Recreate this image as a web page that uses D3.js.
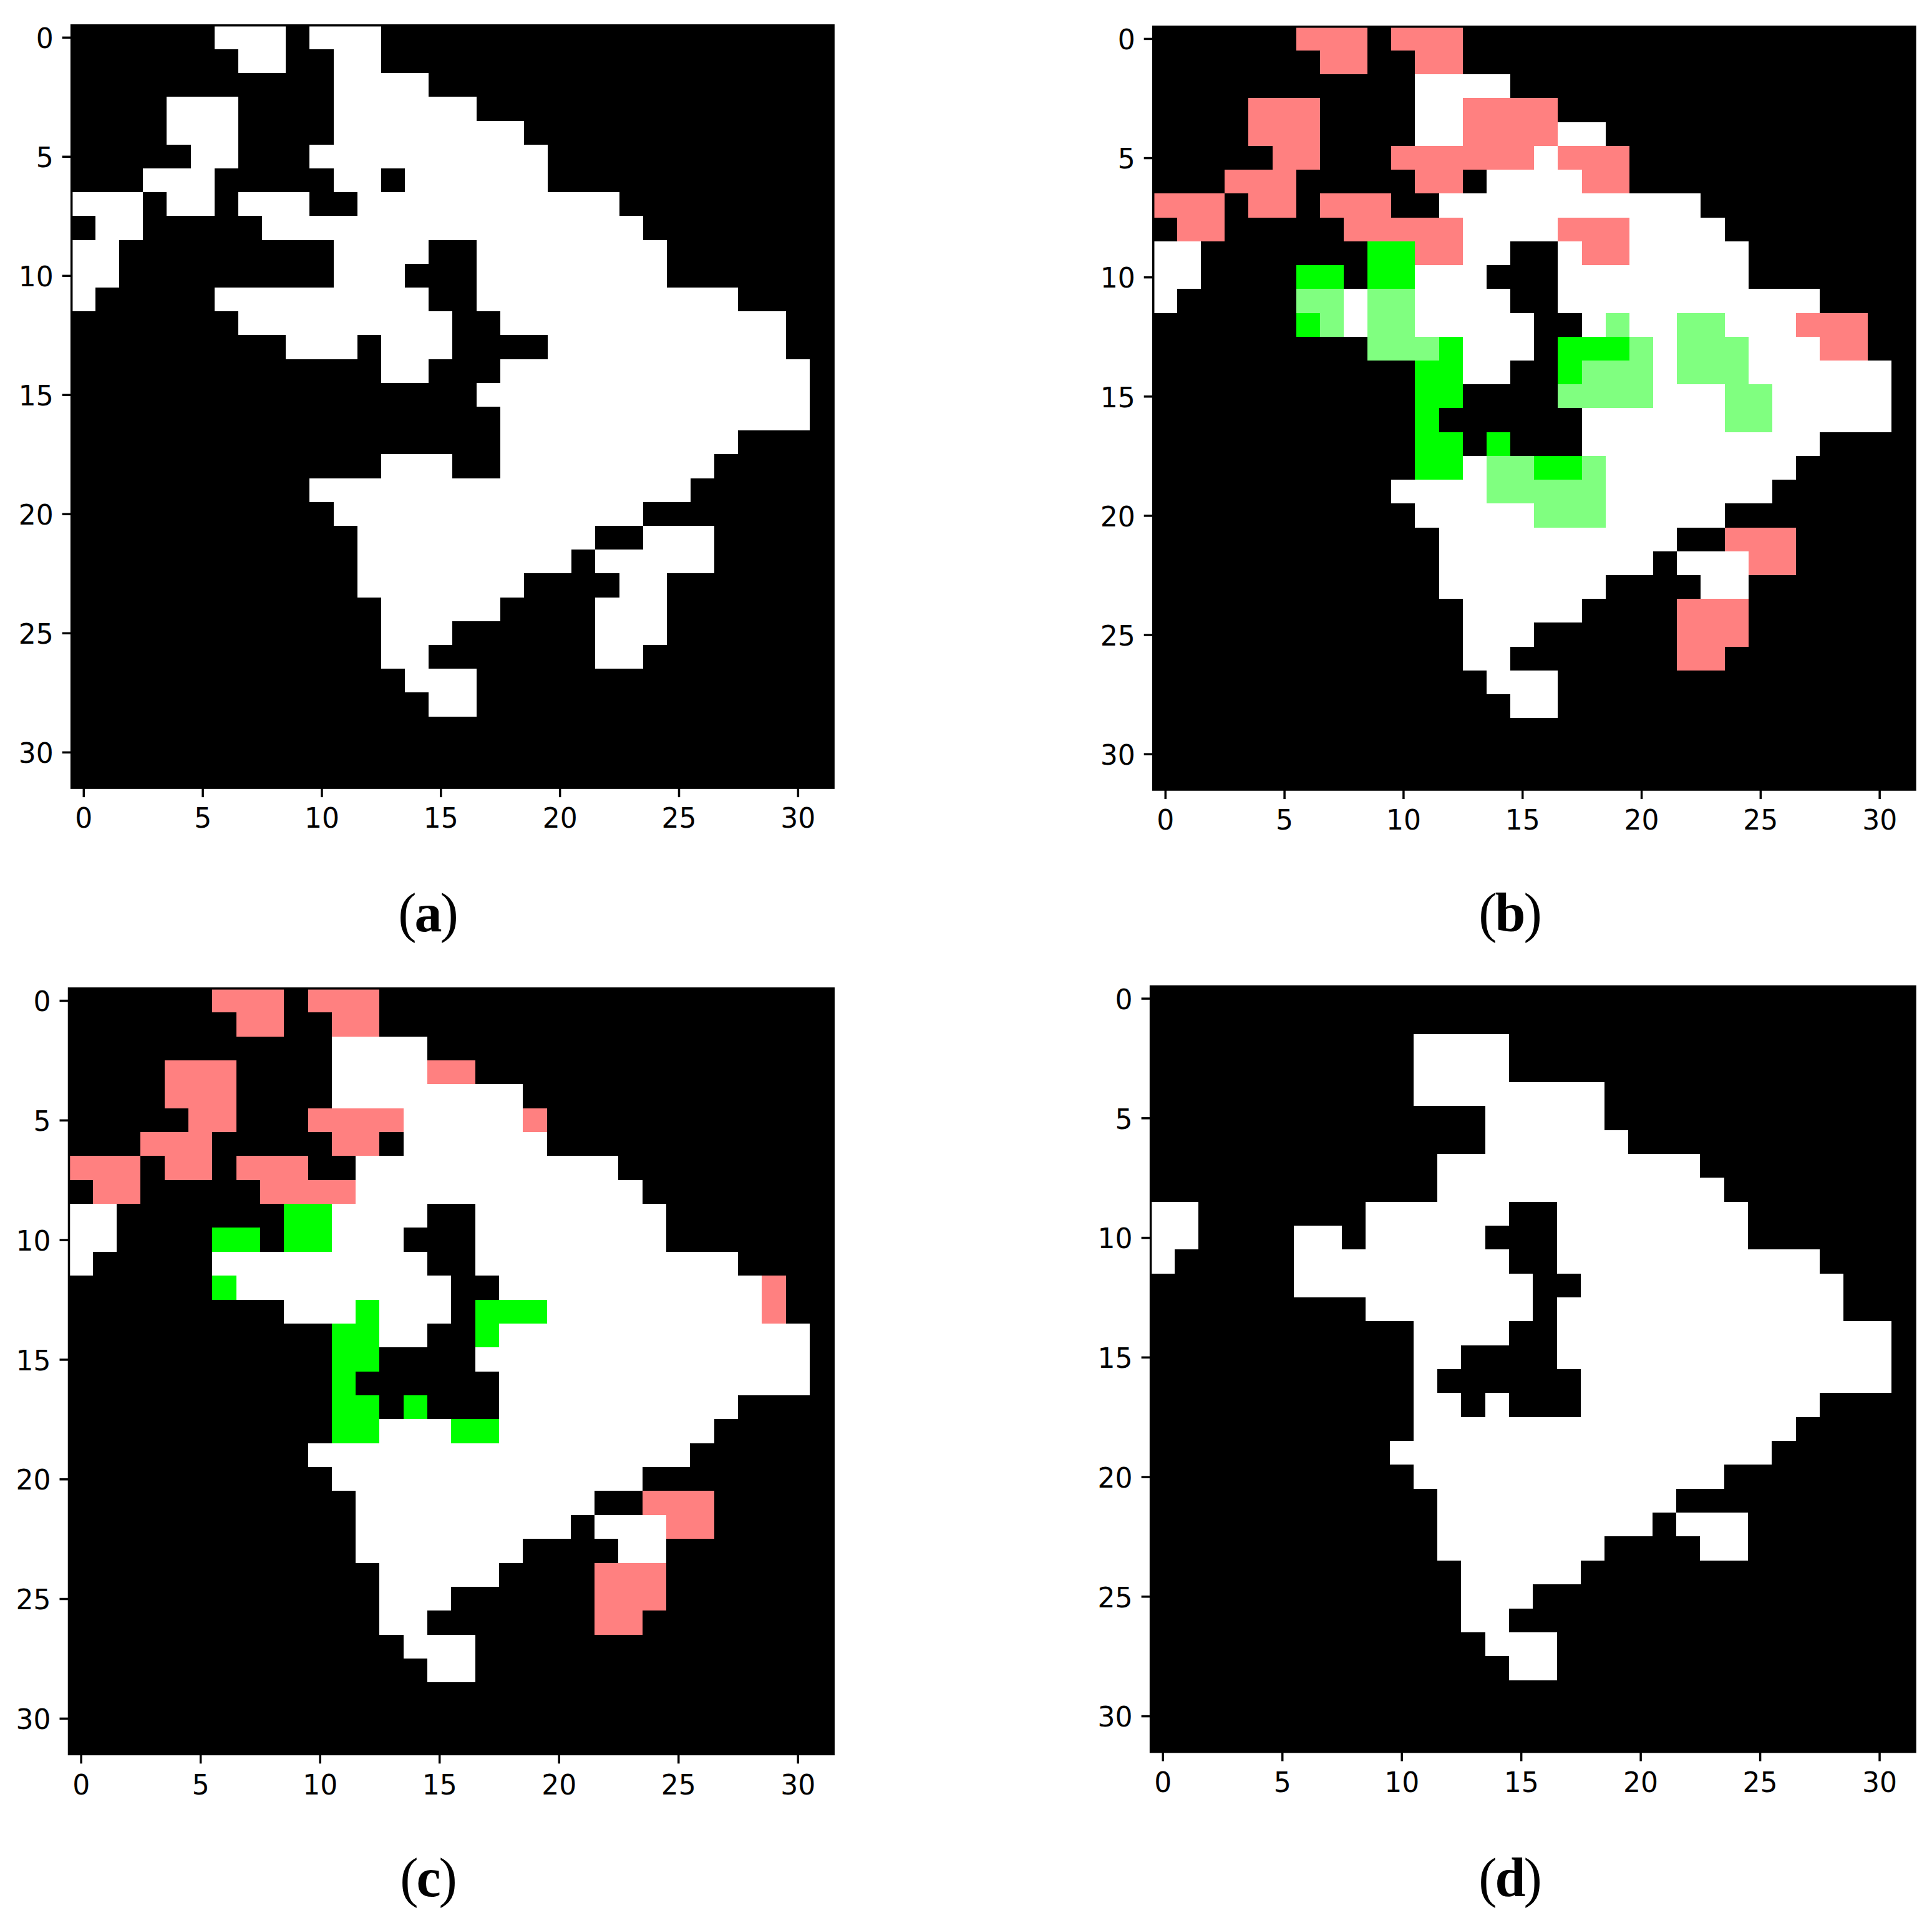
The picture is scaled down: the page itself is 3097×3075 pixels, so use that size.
<!DOCTYPE html>
<html>
<head>
<meta charset="utf-8">
<script src="https://cdn.jsdelivr.net/npm/d3@7/dist/d3.min.js"></script>
<style>
html,body{margin:0;padding:0;background:#fff}
svg{display:block}
</style>
</head>
<body>
<svg id="chart" width="3097" height="3075"></svg>
<script>
// Cell classes: 0 black (default), 1 white, 2 pink, 3 green, 4 light green
// Each row lists runs of non-black cells: [first column, last column, class]
const panelA = [
 [[6,8,1],[10,12,1]],
 [[7,8,1],[11,12,1]],
 [[11,14,1]],
 [[4,6,1],[11,16,1]],
 [[4,6,1],[11,18,1]],
 [[5,6,1],[10,19,1]],
 [[3,5,1],[11,12,1],[14,19,1]],
 [[0,2,1],[4,5,1],[7,9,1],[12,22,1]],
 [[1,2,1],[8,23,1]],
 [[0,1,1],[11,14,1],[17,24,1]],
 [[0,1,1],[11,13,1],[17,24,1]],
 [[0,0,1],[6,14,1],[17,27,1]],
 [[7,15,1],[18,29,1]],
 [[9,11,1],[13,15,1],[20,29,1]],
 [[13,14,1],[18,30,1]],
 [[17,30,1]],
 [[18,30,1]],
 [[18,27,1]],
 [[13,15,1],[18,26,1]],
 [[10,25,1]],
 [[11,23,1]],
 [[12,21,1],[24,26,1]],
 [[12,20,1],[22,26,1]],
 [[12,18,1],[23,24,1]],
 [[13,17,1],[22,24,1]],
 [[13,15,1],[22,24,1]],
 [[13,14,1],[22,23,1]],
 [[14,16,1]],
 [[15,16,1]],
 [], [], []
];
const panelB = [
 [[6,8,2],[10,12,2]],
 [[7,8,2],[11,12,2]],
 [[11,14,1]],
 [[4,6,2],[11,12,1],[13,16,2]],
 [[4,6,2],[11,12,1],[13,16,2],[17,18,1]],
 [[5,6,2],[10,15,2],[16,16,1],[17,19,2]],
 [[3,5,2],[11,12,2],[14,17,1],[18,19,2]],
 [[0,2,2],[4,5,2],[7,9,2],[12,22,1]],
 [[1,2,2],[8,12,2],[13,16,1],[17,19,2],[20,23,1]],
 [[0,1,1],[9,10,3],[11,12,2],[13,14,1],[17,17,1],[18,19,2],[20,24,1]],
 [[0,1,1],[6,7,3],[9,10,3],[11,13,1],[17,24,1]],
 [[0,0,1],[6,7,4],[8,8,1],[9,10,4],[11,14,1],[17,27,1]],
 [[6,6,3],[7,7,4],[8,8,1],[9,10,4],[11,15,1],[18,18,1],[19,19,4],[20,21,1],[22,23,4],[24,26,1],[27,29,2]],
 [[9,11,4],[12,12,3],[13,15,1],[17,19,3],[20,20,4],[21,21,1],[22,24,4],[25,27,1],[28,29,2]],
 [[11,12,3],[13,14,1],[17,17,3],[18,20,4],[21,21,1],[22,24,4],[25,30,1]],
 [[11,12,3],[17,20,4],[21,23,1],[24,25,4],[26,30,1]],
 [[11,11,3],[18,23,1],[24,25,4],[26,30,1]],
 [[11,12,3],[14,14,3],[18,27,1]],
 [[11,12,3],[13,13,1],[14,15,4],[16,17,3],[18,18,4],[19,26,1]],
 [[10,13,1],[14,18,4],[19,25,1]],
 [[11,15,1],[16,18,4],[19,23,1]],
 [[12,21,1],[24,26,2]],
 [[12,20,1],[22,24,1],[25,26,2]],
 [[12,18,1],[23,24,1]],
 [[13,17,1],[22,24,2]],
 [[13,15,1],[22,24,2]],
 [[13,14,1],[22,23,2]],
 [[14,16,1]],
 [[15,16,1]],
 [], [], []
];
const panelC = [
 [[6,8,2],[10,12,2]],
 [[7,8,2],[11,12,2]],
 [[11,14,1]],
 [[4,6,2],[11,14,1],[15,16,2]],
 [[4,6,2],[11,18,1]],
 [[5,6,2],[10,13,2],[14,18,1],[19,19,2]],
 [[3,5,2],[11,12,2],[14,19,1]],
 [[0,2,2],[4,5,2],[7,9,2],[12,22,1]],
 [[1,2,2],[8,11,2],[12,23,1]],
 [[0,1,1],[9,10,3],[11,14,1],[17,24,1]],
 [[0,1,1],[6,7,3],[9,10,3],[11,13,1],[17,24,1]],
 [[0,0,1],[6,14,1],[17,27,1]],
 [[6,6,3],[7,15,1],[18,28,1],[29,29,2]],
 [[9,11,1],[12,12,3],[13,15,1],[17,19,3],[20,28,1],[29,29,2]],
 [[11,12,3],[13,14,1],[17,17,3],[18,30,1]],
 [[11,12,3],[17,30,1]],
 [[11,11,3],[18,30,1]],
 [[11,12,3],[14,14,3],[18,27,1]],
 [[11,12,3],[13,15,1],[16,17,3],[18,26,1]],
 [[10,25,1]],
 [[11,23,1]],
 [[12,21,1],[24,26,2]],
 [[12,20,1],[22,24,1],[25,26,2]],
 [[12,18,1],[23,24,1]],
 [[13,17,1],[22,24,2]],
 [[13,15,1],[22,24,2]],
 [[13,14,1],[22,23,2]],
 [[14,16,1]],
 [[15,16,1]],
 [], [], []
];
const panelD = [
 [],
 [],
 [[11,14,1]],
 [[11,14,1]],
 [[11,18,1]],
 [[14,18,1]],
 [[14,19,1]],
 [[12,22,1]],
 [[12,23,1]],
 [[0,1,1],[9,14,1],[17,24,1]],
 [[0,1,1],[6,7,1],[9,13,1],[17,24,1]],
 [[0,0,1],[6,14,1],[17,27,1]],
 [[6,15,1],[18,28,1]],
 [[9,15,1],[17,28,1]],
 [[11,14,1],[17,30,1]],
 [[11,12,1],[17,30,1]],
 [[11,11,1],[18,30,1]],
 [[11,12,1],[14,14,1],[18,27,1]],
 [[11,26,1]],
 [[10,25,1]],
 [[11,23,1]],
 [[12,21,1]],
 [[12,20,1],[22,24,1]],
 [[12,18,1],[23,24,1]],
 [[13,17,1]],
 [[13,15,1]],
 [[13,14,1]],
 [[14,16,1]],
 [[15,16,1]],
 [], [], []
];
const tickValues = [0, 5, 10, 15, 20, 25, 30];
const classColors = ["#000000", "#ffffff", "#ff8080", "#00ff00", "#80ff80"];
const captions = ["a", "b", "c", "d"];
const panelRows = [panelA, panelB, panelC, panelD];

// Layout of each image area and its caption, in page pixels
const frames = [
 {x0: 114.7, x1: 1336.1, y0: 40.7, y1: 1263.1, cx: 685, cy: 1493},
 {x0: 1848.7, x1: 3069.9, y0: 42.8, y1: 1266, cx: 2419.5, cy: 1493},
 {x0: 110.5, x1: 1336.2, y0: 1584.8, y1: 2812.4, cx: 685.5, cy: 3040},
 {x0: 1844.6, x1: 3070, y0: 1581.4, y1: 2808.6, cx: 2419.5, cy: 3040}
];
const tickFont = 44, tickSize = 15, tickWidth = 3.5;

const svg = d3.select("#chart");
const color = d3.scaleOrdinal().domain(d3.range(classColors.length)).range(classColors);

panelRows.forEach((rows, p) => {
  const f = frames[p];
  const x = d3.scaleLinear().domain([-0.5, 31.5]).range([f.x0, f.x1]);
  const y = d3.scaleLinear().domain([-0.5, 31.5]).range([f.y0, f.y1]);
  const g = svg.append("g");

  const cells = [];
  rows.forEach((runs, r) => runs.forEach(([a, b, k]) => {
    d3.range(a, b + 1).forEach(c => cells.push({r, c, k}));
  }));

  g.append("rect").attr("x", x(-0.5)).attr("y", y(-0.5))
    .attr("width", x(31.5) - x(-0.5)).attr("height", y(31.5) - y(-0.5))
    .attr("fill", color(0));

  g.selectAll("rect.cell").data(cells).join("rect")
    .attr("class", "cell")
    .attr("x", d => x(d.c - 0.5))
    .attr("y", d => y(d.r - 0.5))
    .attr("width", d => x(d.c + 0.5) - x(d.c - 0.5))
    .attr("height", d => y(d.r + 0.5) - y(d.r - 0.5))
    .attr("fill", d => color(d.k))
    .attr("shape-rendering", "crispEdges");

  g.append("rect").attr("x", x(-0.5)).attr("y", y(-0.5))
    .attr("width", x(31.5) - x(-0.5)).attr("height", y(31.5) - y(-0.5))
    .attr("fill", "none").attr("stroke", "#000").attr("stroke-width", tickWidth);

  const ax = g.append("g").attr("transform", `translate(0,${f.y1})`)
    .call(d3.axisBottom(x).tickValues(tickValues).tickSizeInner(tickSize).tickSizeOuter(0).tickPadding(18).tickFormat(d3.format("d")));
  const ay = g.append("g").attr("transform", `translate(${f.x0},0)`)
    .call(d3.axisLeft(y).tickValues(tickValues).tickSizeInner(tickSize).tickSizeOuter(0).tickPadding(14).tickFormat(d3.format("d")));
  ay.selectAll("text").attr("dy", "0.38em");
  [ax, ay].forEach(a => {
    a.select(".domain").remove();
    a.selectAll("text").attr("font-family", "'DejaVu Sans'").attr("font-size", tickFont).attr("fill", "#000");
    a.selectAll("line").attr("stroke", "#000").attr("stroke-width", tickWidth);
  });

  const t = g.append("text").attr("x", f.cx).attr("y", f.cy)
    .attr("text-anchor", "middle").attr("font-family", "'Liberation Serif'")
    .attr("font-size", 88).attr("letter-spacing", -3).attr("fill", "#000");
  t.append("tspan").attr("font-weight", "normal").text("(");
  t.append("tspan").attr("font-weight", "bold").text(captions[p]);
  t.append("tspan").attr("font-weight", "normal").text(")");
});
</script>
</body>
</html>
